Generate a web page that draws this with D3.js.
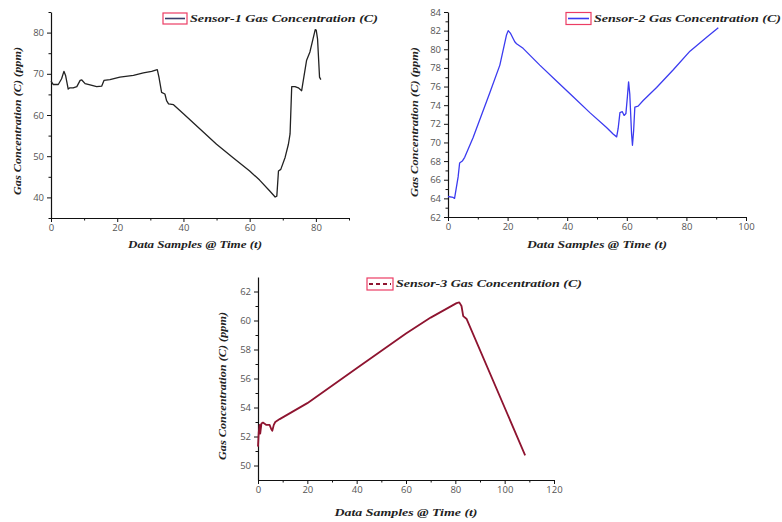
<!DOCTYPE html>
<html>
<head>
<meta charset="utf-8">
<script src="https://cdn.jsdelivr.net/npm/d3@7"></script>
<style>
  body { margin: 0; background: #fff; }
  svg { display: block; }
  .tick text { font-family: "Open Sans", sans-serif; font-size: 9.5px; fill: #555; }
  .axis path, .axis line { stroke: #111; }
  .lbl { font-family: "Liberation Serif", serif; font-weight: bold; font-style: italic; font-size: 10.5px; fill: #222; }
</style>
</head>
<body>
<div id="chart"></div>
<script>
// Sensor-1
const s1Time = [0, 0.7, 2.2, 3.2, 3.9, 4.4, 5.2, 5.7, 6.7, 7.8, 8.8, 9.3, 10.3, 11.8, 13.8, 15.3, 16, 17.8, 20.8, 24.9, 27.9, 30.4, 32.1, 32.6, 33.4, 34.4, 34.9, 35.5, 37, 40, 45, 50, 55, 60, 63, 66, 67.7, 68.2, 68.7, 69.4, 70.7, 71.7, 72.2, 72.7, 73.7, 74.7, 75.7, 76.2, 77.2, 78.2, 79.8, 80.1, 80.5, 81.1, 81.5];
const s1Conc = [68.2, 67.4, 67.4, 68.8, 70.6, 69.6, 66.3, 66.6, 66.6, 66.9, 68.4, 68.5, 67.6, 67.3, 66.9, 67, 68.4, 68.6, 69.2, 69.6, 70.2, 70.6, 71, 69.2, 65.5, 65.1, 63.5, 62.7, 62.5, 60.3, 56.6, 52.9, 49.6, 46.4, 44.2, 41.6, 40.1, 40.3, 46.4, 46.8, 49.7, 52.9, 55.4, 66.9, 66.9, 66.6, 65.9, 68.4, 73.3, 75.3, 80.7, 80.6, 78.5, 69.2, 68.6];

// Sensor-2
const s2Time = [0, 1.7, 2.2, 3.4, 3.9, 4.8, 5.6, 8.4, 14, 17.4, 19.6, 20.2, 21, 22.4, 23, 25.2, 30.8, 36.4, 42, 47.6, 53.2, 55.4, 56.6, 57.1, 57.7, 58.5, 59.1, 59.7, 60.2, 60.6, 61, 61.6, 61.9, 62.3, 62.7, 63.8, 65.5, 70, 75.6, 81.2, 86.8, 90.7];
const s2Conc = [64.2, 64.1, 64, 66.3, 67.8, 68, 68.4, 70.5, 75.3, 78.3, 81.5, 82, 81.7, 80.8, 80.6, 80.1, 78.3, 76.6, 74.9, 73.2, 71.6, 70.9, 70.6, 71.5, 73.2, 73.3, 72.9, 73.1, 74.9, 76.5, 75.2, 70.9, 69.7, 71.3, 73.8, 73.9, 74.5, 75.9, 77.8, 79.8, 81.3, 82.3];

// Sensor-3
const s3Time = [0, 0.3, 0.7, 0.9, 1.4, 2, 3.4, 4.7, 5.4, 5.8, 6.4, 7, 8.8, 20, 40, 60, 70, 80.5, 81.6, 82.5, 83.2, 84.6, 108.3];
const s3Conc = [51.3, 52.3, 52.8, 52.2, 52.9, 52.96, 52.8, 52.8, 52.5, 52.4, 52.8, 53, 53.2, 54.3, 56.7, 59.1, 60.2, 61.2, 61.25, 61, 60.3, 60.1, 50.7];

const legendNames = ["Sensor-1 Gas Concentration (C)", "Sensor-2 Gas Concentration (C)", "Sensor-3 Gas Concentration (C)"];
const xTitle = "Data Samples @ Time (t)";
const yTitle = "Gas Concentration (C) (ppm)";

const W = 782, H = 522;
const svg = d3.select("#chart").append("svg").attr("width", W).attr("height", H);

// panel geometry (pixel boxes of each plot area)
const panels = [
  { time: s1Time, conc: s1Conc, color: "#222", dash: null,
    x0: 51, x1: 349, y0: 218, y1: 12, xDom: [0, 90], yDom: [35, 85],
    xMajor: d3.range(0, 81, 20), xMinor: d3.range(10, 91, 20),
    yMajor: d3.range(40, 81, 10), yMinor: d3.range(35, 86, 10),
    leg: { x: 163, y: 13, w: 24, h: 11, tx: 190, tw: 188, ty: 22 },
    xl: { x: 195, y: 248, w: 134 }, yl: { x: 21, y: 121, w: 148 } },
  { time: s2Time, conc: s2Conc, color: "#3b3bf0", dash: null,
    x0: 448, x1: 746, y0: 217, y1: 12, xDom: [0, 100], yDom: [62, 84],
    xMajor: d3.range(0, 101, 20), xMinor: d3.range(10, 100, 20),
    yMajor: d3.range(62, 85, 2), yMinor: d3.range(63, 84, 2),
    leg: { x: 566, y: 12.5, w: 25, h: 12, tx: 594, tw: 187, ty: 22 },
    xl: { x: 597, y: 248, w: 140 }, yl: { x: 418, y: 122, w: 150 } },
  { time: s3Time, conc: s3Conc, color: "#8e1430", dash: "4,3",
    x0: 258, x1: 554, y0: 480, y1: 277, xDom: [0, 120], yDom: [49, 63],
    xMajor: d3.range(0, 121, 20), xMinor: d3.range(10, 120, 20),
    yMajor: d3.range(50, 63, 2), yMinor: d3.range(51, 63, 2),
    leg: { x: 367, y: 278, w: 26, h: 12, tx: 396, tw: 186, ty: 287 },
    xl: { x: 406, y: 516, w: 143 }, yl: { x: 226, y: 386, w: 148 } }
];

panels.forEach((p, i) => {
  const x = d3.scaleLinear().domain(p.xDom).range([p.x0, p.x1]);
  const y = d3.scaleLinear().domain(p.yDom).range([p.y0, p.y1]);
  const g = svg.append("g");

  // minor ticks first, then major axis with labels
  g.append("g").attr("class", "axis").attr("transform", `translate(0,${p.y0})`)
    .call(d3.axisBottom(x).tickValues(p.xMinor).tickSize(2.5).tickFormat(""))
    .select(".domain").remove();
  g.append("g").attr("class", "axis").attr("transform", `translate(${p.x0},0)`)
    .call(d3.axisLeft(y).tickValues(p.yMinor).tickSize(2.5).tickFormat(""))
    .select(".domain").remove();
  g.append("g").attr("class", "axis").attr("transform", `translate(0,${p.y0})`)
    .call(d3.axisBottom(x).tickValues(p.xMajor).tickSize(4).tickSizeOuter(0).tickPadding(2));
  g.append("g").attr("class", "axis").attr("transform", `translate(${p.x0},0)`)
    .call(d3.axisLeft(y).tickValues(p.yMajor).tickSize(4).tickSizeOuter(0).tickPadding(3));
  g.selectAll(".domain").attr("stroke-width", 1.2);

  // the series line
  const pts = p.time.map((t, k) => [t, p.conc[k]]);
  g.append("path").datum(pts)
    .attr("fill", "none").attr("stroke", p.color).attr("stroke-width", i === 2 ? 1.8 : 1.3)
    .attr("stroke-linejoin", "round")
    .attr("d", d3.line().x(d => x(d[0])).y(d => y(d[1])));

  // legend: red box with series sample
  const L = p.leg;
  g.append("rect").attr("x", L.x).attr("y", L.y).attr("width", L.w).attr("height", L.h)
    .attr("fill", "#fff").attr("stroke", "#ec3d64").attr("stroke-width", 1.2);
  g.append("line").attr("x1", L.x + 2).attr("x2", L.x + L.w - 2)
    .attr("y1", L.y + L.h / 2).attr("y2", L.y + L.h / 2)
    .attr("stroke", i === 0 ? "#3a3d6a" : p.color).attr("stroke-width", i === 2 ? 2 : 1.6)
    .attr("stroke-dasharray", p.dash);
  g.append("text").attr("class", "lbl").attr("x", L.tx).attr("y", L.ty)
    .attr("textLength", L.tw).attr("lengthAdjust", "spacingAndGlyphs").text(legendNames[i]);

  // axis titles
  g.append("text").attr("class", "lbl").attr("text-anchor", "middle")
    .attr("x", p.xl.x).attr("y", p.xl.y)
    .attr("textLength", p.xl.w).attr("lengthAdjust", "spacingAndGlyphs").text(xTitle);
  g.append("text").attr("class", "lbl").attr("text-anchor", "middle")
    .attr("transform", `translate(${p.yl.x},${p.yl.y}) rotate(-90)`)
    .attr("textLength", p.yl.w).attr("lengthAdjust", "spacingAndGlyphs").text(yTitle);
});
</script>
</body>
</html>
